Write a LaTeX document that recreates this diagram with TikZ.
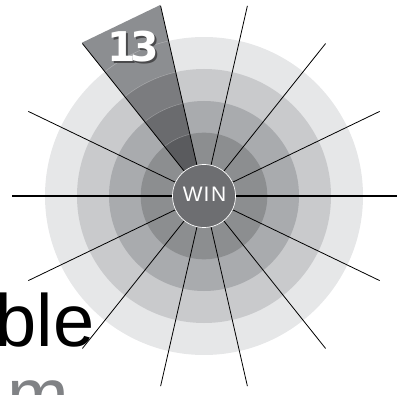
\documentclass[tikz,border=0pt]{standalone}
\usepackage{fontspec}
\setmainfont{Liberation Sans}
\newfontfamily\digitfont{DejaVu Sans}
\usetikzlibrary{calc}
\definecolor{ringA}{HTML}{E6E7E8}
\definecolor{ringB}{HTML}{C9CACC}
\definecolor{ringC}{HTML}{A9ABAE}
\definecolor{ringD}{HTML}{8C8E90}
\definecolor{wedgeA}{HTML}{8C8E91}
\definecolor{wedgeB}{HTML}{7B7C7F}
\definecolor{wedgeC}{HTML}{6A6B6E}
\definecolor{wedgeD}{HTML}{5A5B5E}
\definecolor{winfill}{HTML}{6D6E71}
\definecolor{shadowgray}{HTML}{4A4A4C}
\definecolor{mgray}{HTML}{808285}
\tikzset{
  ray/.style={black, line width=0.8pt},
  hray/.style={black, line width=1.3pt},
  ringarc/.style={white, opacity=0.3, line width=0.5pt},
  bigtext/.style={inner sep=0pt, anchor=base west, font=\fontsize{74}{80}\selectfont},
}
\begin{document}
\begin{tikzpicture}[x=1pt,y=1pt]
\useasboundingbox (0,0) rectangle (404,394);
\coordinate (C) at (204,198);
% rings
\fill[ringA] (C) circle (159);
\fill[ringB] (C) circle (127);
\fill[ringC] (C) circle (95);
\fill[ringD] (C) circle (63.3);
% highlighted wedge
\begin{scope}
  \clip (C) -- ($(C)+(102.857:196)$) -- ($(C)+(128.571:196)$) -- cycle;
  \fill[wedgeA] (0,0) rectangle (404,394);
  \fill[wedgeB] (C) circle (127);
  \fill[wedgeC] (C) circle (95);
  \fill[wedgeD] (C) circle (63.3);
  \draw[ringarc] (C) circle (159);
  \draw[ringarc] (C) circle (127);
  \draw[ringarc] (C) circle (95);
  \draw[ringarc] (C) circle (63.3);
\end{scope}
% rays
\foreach \k in {1,2,3,4,5,6,8,9,10,11,12,13}
  \draw[ray] ($(C)+(\k*25.7143:31.5)$) -- ($(C)+(\k*25.7143:195)$);
\draw[hray] ($(C)+(0:31.5)$) -- ($(C)+(0:193)$);
\draw[hray] ($(C)+(180:31.5)$) -- ($(C)+(180:192)$);
% center
\node[circle, fill=winfill, draw=white, line width=0.7pt, minimum size=63pt, inner sep=0pt] (win) at (C) {};
\node[text=white, inner sep=0pt, font=\fontsize{21}{24}\selectfont] (wintext) at ($(C)+(0.5,1.5)$) {W\kern1pt I\kern1.5pt N};
% number 13
\node[text=shadowgray, inner sep=0pt, font=\digitfont\bfseries\fontsize{41}{44}\selectfont] (numshadow) at (135,345.5) {1\kern-6pt 3};
\node[text=white, inner sep=0pt, font=\digitfont\bfseries\fontsize{41}{44}\selectfont] (num) at (133.5,347) {1\kern-6pt 3};
% text fragments
\node[bigtext, text=black] (ble) at (-4.5,48) {ble};
\node[bigtext, text=mgray] (mword) at (7,-26.5) {m};
\end{tikzpicture}
\end{document}
